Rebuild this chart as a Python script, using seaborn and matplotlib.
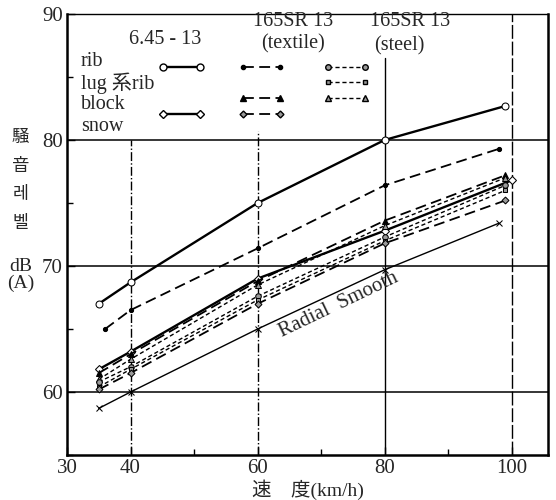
import matplotlib
matplotlib.use('Agg')
import matplotlib.pyplot as plt
import seaborn as sns
import pandas as pd
from matplotlib.ticker import MultipleLocator, FixedLocator

# speed (km/h) and noise level dB(A)
rib_645_x = [35, 40, 60, 80, 99]
rib_645_y = [67.0, 68.7, 75.0, 80.0, 82.7]
rib_tex_x = [36, 40, 60, 80, 98]
rib_tex_y = [65.0, 66.5, 71.4, 76.4, 79.3]
snow_645_x = [35, 40, 60, 80, 100]
snow_645_y = [61.8, 63.2, 69.0, 72.8, 76.8]
block_tex_x = [35, 40, 60, 80, 99]
block_tex_y = [61.5, 63.0, 68.8, 73.6, 77.2]
block_stl_x = [35, 40, 60, 80, 99]
block_stl_y = [61.0, 62.6, 68.5, 73.2, 77.0]
rib_stl_x = [35, 40, 60, 80, 99]
rib_stl_y = [60.8, 62.0, 67.6, 72.3, 76.4]
lug_stl_x = [35, 40, 60, 80, 99]
lug_stl_y = [60.4, 61.8, 67.3, 72.0, 76.0]
snow_tex_x = [35, 40, 60, 80, 99]
snow_tex_y = [60.2, 61.5, 67.0, 71.8, 75.2]
smooth_x = [35, 40, 60, 80, 98]
smooth_y = [58.7, 60.0, 65.0, 69.7, 73.4]

x_ticks = [30, 40, 60, 80, 100]
y_ticks = [60, 70, 80, 90]

sns.set_theme(style="white")
plt.rcParams['font.family'] = ['Liberation Serif', 'Noto Sans CJK JP', 'DejaVu Sans']

fig = plt.figure(figsize=(5.56, 5.0), dpi=100)
ax = fig.add_axes([0.1205, 0.09, 0.865, 0.882])

solid = dict(color='black', linestyle='-', linewidth=1.7)
tex = dict(color='black', linestyle=(0, (6, 3)), linewidth=1.3)
stl = dict(color='black', linestyle=(0, (3, 2)), linewidth=1.0)

series = [
    (rib_645_x, rib_645_y, solid, dict(marker='o', markersize=5, markerfacecolor='white', markeredgecolor='black')),
    (rib_tex_x, rib_tex_y, tex, dict(marker='o', markersize=3, markerfacecolor='black', markeredgecolor='black')),
    (snow_645_x, snow_645_y, solid, dict(marker='D', markersize=4, markerfacecolor='white', markeredgecolor='black')),
    (block_tex_x, block_tex_y, tex, dict(marker='^', markersize=4, markerfacecolor='black', markeredgecolor='black')),
    (block_stl_x, block_stl_y, stl, dict(marker='^', markersize=4, markerfacecolor='#999999', markeredgecolor='black')),
    (rib_stl_x, rib_stl_y, stl, dict(marker='o', markersize=4, markerfacecolor='#999999', markeredgecolor='black')),
    (lug_stl_x, lug_stl_y, stl, dict(marker='s', markersize=3.5, markerfacecolor='#999999', markeredgecolor='black')),
    (snow_tex_x, snow_tex_y, tex, dict(marker='D', markersize=3.5, markerfacecolor='#999999', markeredgecolor='black')),
    (smooth_x, smooth_y, dict(color='black', linestyle='-', linewidth=1.0), dict(marker='x', markersize=4, markeredgecolor='black')),
]
for xs, ys, ls, mk in series:
    df = pd.DataFrame({'speed': xs, 'db': ys})
    sns.lineplot(data=df, x='speed', y='db', ax=ax, **ls, **mk)

# grid lines
for yv in [60, 70, 80]:
    ax.axhline(yv, color='black', linewidth=1.1, zorder=1)
ax.axvline(40, ymax=0.715, color='black', linewidth=1.0, linestyle='-.', zorder=1)
ax.axvline(60, ymax=0.735, color='black', linewidth=1.0, linestyle='-.', zorder=1)
ax.axvline(80, ymax=0.9, color='black', linewidth=1.0, zorder=1)
ax.axvline(100, color='black', linewidth=1.0, linestyle=(0, (10, 2)), zorder=1)

ax.set_xlim(30, 105.7)
ax.set_ylim(55, 90)
ax.xaxis.set_major_locator(FixedLocator(x_ticks))
ax.xaxis.set_minor_locator(FixedLocator([50, 70, 90]))
ax.yaxis.set_major_locator(FixedLocator(y_ticks))
ax.yaxis.set_minor_locator(MultipleLocator(5))
ax.tick_params(which='both', direction='in', color='black', labelsize=15, pad=3)
ax.tick_params(which='major', length=6, width=1.0)
ax.tick_params(which='minor', length=4, width=1.0)
ax.tick_params(axis='x', which='both', bottom=True)
ax.tick_params(axis='y', which='both', left=True)
for s in ax.spines.values():
    s.set_color('black')
    s.set_linewidth(1.8)
ax.spines['top'].set_linewidth(1.0)
ax.set_xlabel('速　度(km/h)', fontsize=14, labelpad=1)
ax.set_ylabel('')

# legend drawn as a table in the top-left
fs = 14.5
ax.text(45.4, 88.0, '6.45 - 13', ha='center', va='center', fontsize=fs)
ax.text(65.6, 89.4, '165SR 13', ha='center', va='center', fontsize=fs)
ax.text(65.6, 87.6, '(textile)', ha='center', va='center', fontsize=fs)
ax.text(84.0, 89.4, '165SR 13', ha='center', va='center', fontsize=fs)
ax.text(82.3, 87.5, '(steel)', ha='center', va='center', fontsize=fs)
rows = ['rib', 'lug 系rib', 'block', 'snow']
row_text_y = [86.2, 84.5, 82.8, 81.1]
for lbl, ty in zip(rows, row_text_y):
    ax.text(32.2, ty, lbl, ha='left', va='center', fontsize=fs)

row_y = [85.8, 84.6, 83.3, 82.05]
cols = {'645': (45.1, 50.9), 'tex': (57.7, 63.5), 'stl': (71.1, 76.9)}
legend_items = [
    ('645', 0, 0), ('645', 3, 2),
    ('tex', 0, 1), ('tex', 2, 3), ('tex', 3, 7),
    ('stl', 0, 5), ('stl', 1, 6), ('stl', 2, 4),
]
for col, r, si in legend_items:
    x0, x1 = cols[col]
    ls, mk = series[si][2], series[si][3]
    ax.plot([x0, x1], [row_y[r], row_y[r]], **ls, **mk)

ax.text(72.7, 66.9, 'Radial  Smooth', rotation=25.5, ha='center', va='center', fontsize=15)

fig.text(0.037, 0.64, '騒\n音\n레\n벨', ha='center', va='center', fontsize=12.5,
         linespacing=1.75, family=['Noto Sans CJK JP', 'DejaVu Sans'])
fig.text(0.037, 0.45, 'dB\n(A)', ha='center', va='center', fontsize=14, linespacing=1.0)

fig.savefig('out.png', dpi=100)
